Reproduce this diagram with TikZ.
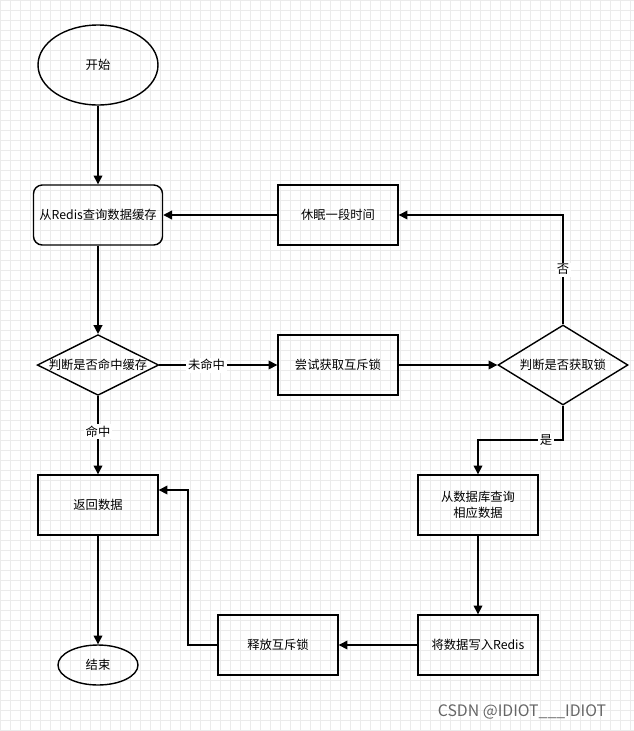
\documentclass[tikz,border=0pt]{standalone}
\usepackage{fontspec}
\setmainfont{Noto Sans CJK SC}
\usetikzlibrary{shapes.geometric,arrows.meta}
\tikzset{
  box/.style={draw,thick,minimum width=2.4cm,minimum height=1.2cm,font=\fontsize{7}{9}\selectfont,align=center},
  rbox/.style={box,rounded corners=5pt},
  oval/.style={draw,thick,ellipse,font=\fontsize{7}{9}\selectfont},
  dec/.style={draw,thick,diamond,aspect=2,inner sep=0pt,font=\fontsize{7}{9}\selectfont},
  line/.style={draw,thick,-{Triangle[length=5pt,width=5pt]}},
  lab/.style={fill=white,inner sep=1pt,font=\fontsize{7}{9}\selectfont}
}
\begin{document}
\begin{tikzpicture}[x=0.02cm,y=-0.02cm]
\useasboundingbox (0,0) rectangle (634,731);
\draw[black!8,step=0.2cm] (0,0) grid (634,731);
\node[oval,minimum width=2.4cm,minimum height=1.6cm] (start) at (98,65) {开始};
\node[rbox] (query) at (98,215) {从Redis查询数据缓存};
\node[box] (sleep) at (338,215) {休眠一段时间};
\node[dec,minimum width=2.4cm,minimum height=1.2cm] (hit) at (98,365) {判断是否命中缓存};
\node[box] (lock) at (338,365) {尝试获取互斥锁};
\node[dec,minimum width=2.6cm,minimum height=1.6cm] (got) at (563,365) {判断是否获取锁};
\node[box] (ret) at (98,505) {返回数据};
\node[box] (db) at (478,505) {从数据库查询\\相应数据};
\node[box] (rel) at (278,645) {释放互斥锁};
\node[box] (wr) at (478,645) {将数据写入Redis};
\node[oval,minimum width=1.6cm,minimum height=0.8cm] (stop) at (98,665) {结束};
\coordinate (c1) at (563,215);
\coordinate (c2) at (563,440);
\coordinate (c3) at (478,440);
\coordinate (c4) at (188,645);
\coordinate (c5) at (188,490);
\path[line] (start) -- (query);
\path[line] (query) -- (hit);
\path[line] (hit) -- node[lab,pos=0.4] {未命中} (lock);
\path[line] (hit) -- node[lab,pos=0.45] {命中} (ret);
\path[line] (lock) -- (got);
\path[line] (got.north) -- node[lab] {否} (c1) -- (sleep.east);
\path[line] (sleep) -- (query);
\path[line] (got.south) -- (c2) -- node[lab,pos=0.2] {是} (c3) -- (db.north);
\path[line] (db) -- (wr);
\path[line] (wr) -- (rel);
\path[line] (rel.west) -- (c4) -- (c5) -- (ret.east |- c5);
\path[line] (ret) -- (stop);
\node[text=black!60,font=\fontsize{9}{10}\selectfont] (mark) at (522,712) {CSDN @IDIOT\_\_\_IDIOT};
\end{tikzpicture}
\end{document}
